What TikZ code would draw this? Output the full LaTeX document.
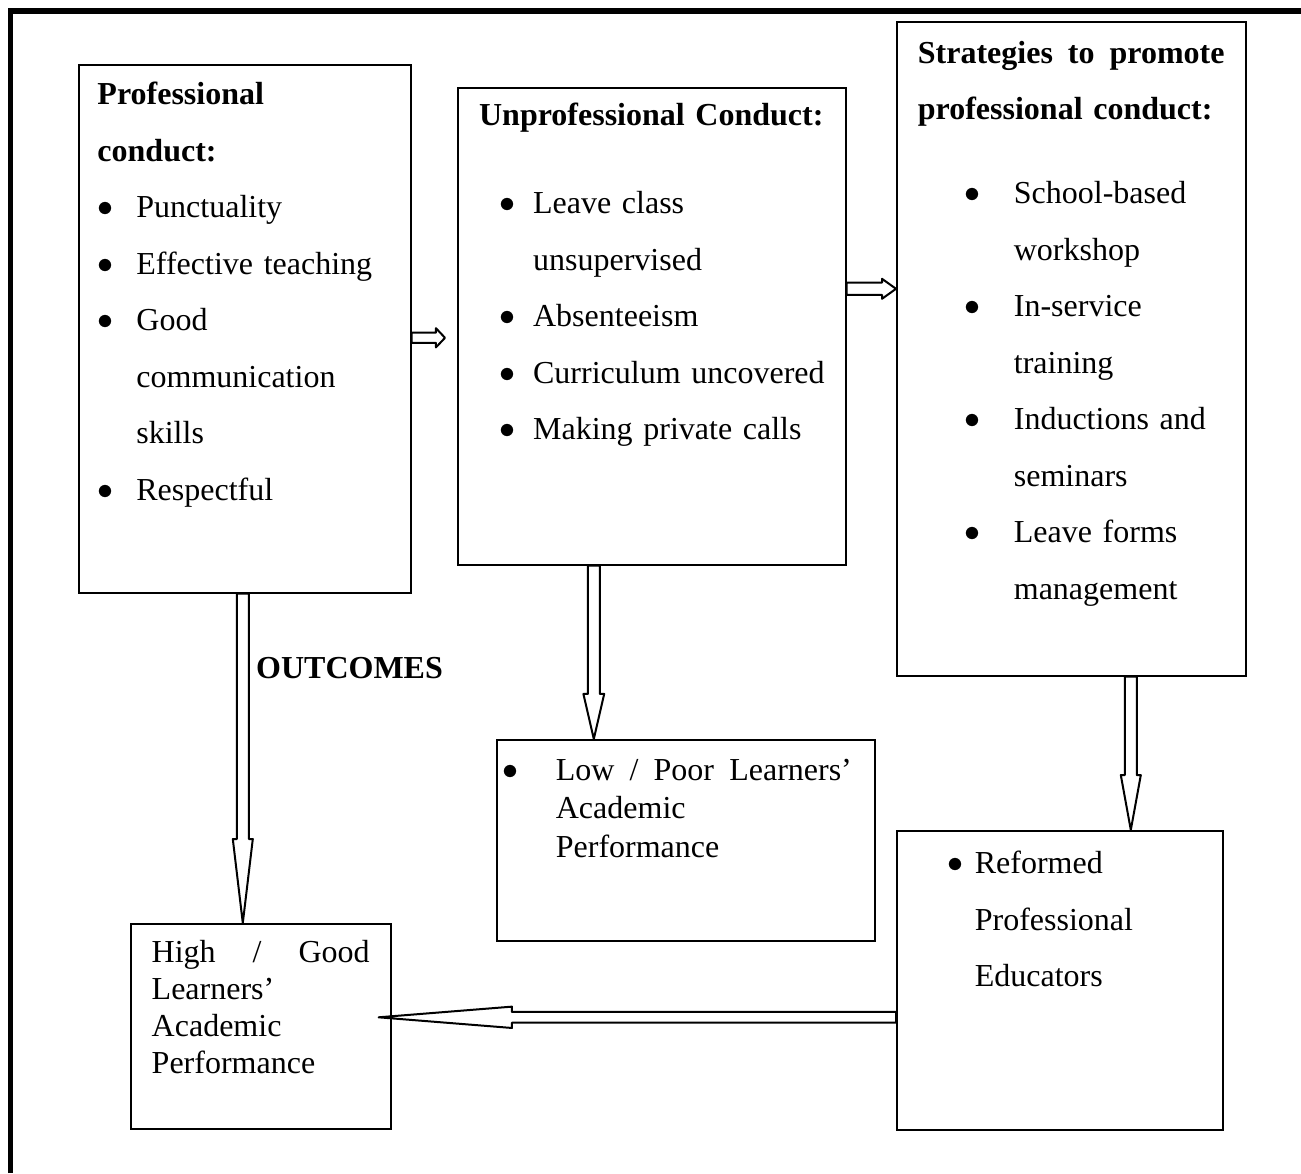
\documentclass[tikz,border=0pt]{standalone}
\usepackage{fontspec}
\setmainfont{Liberation Serif}
\usepackage{tikz}
\usetikzlibrary{calc, positioning}

% bullet at offset #1, text starting at #2
\newcommand{\bul}[2]{\makebox[#2][l]{\hspace*{#1}\raisebox{0.5pt}{$\bullet$}}}

\begin{document}
\begin{tikzpicture}[
        x=0.375pt, y=-0.375pt,
        every node/.style={font=\fontsize{12}{21.2}\selectfont},
        tight/.style={font=\fontsize{12}{13.8}\selectfont},
        panel/.style n args={4}{draw, line width=0.6pt, anchor=north west, align=left,
            inner xsep=#1, inner ysep=#2, text width=#3, text height=9pt, text depth=#4},
        hollow/.style n args={3}{draw, line width=0.75pt, line join=round, to path={
            coordinate (s) at (\tikztostart) coordinate (t) at (\tikztotarget)
            coordinate (hb) at ($(t)!#3!(s)$)
            ($(s)!#1!90:(t)$) -- ($(hb)!#1!-90:(s)$) -- ($(hb)!#2!-90:(s)$) -- (t)
            -- ($(hb)!#2!90:(s)$) -- ($(hb)!#1!90:(s)$) -- ($(s)!#1!-90:(t)$) -- cycle}}
    ]
        \useasboundingbox (0,0) rectangle (1301,1173);
        % page frame
        \draw[line width=1.9pt] (10.5,1173) -- (10.5,11) -- (1301,11);

        % --- BOXES ---
        \node[panel={7pt}{6pt}{110.5pt}{177pt}] (pro) at (78,64) {%
            \textbf{Professional}\\
            \textbf{conduct:}\\
            \bul{0pt}{14.6pt}Punctuality\\
            \bul{0pt}{14.6pt}Effective teaching\\
            \bul{0pt}{14.6pt}Good\\
            \hspace*{14.6pt}communication\\
            \hspace*{14.6pt}skills\\
            \bul{0pt}{14.6pt}Respectful};
        \node[panel={8pt}{5.25pt}{129.5pt}{159.375pt}] (unpro) at (457,87) {%
            \textbf{Unprofessional Conduct:}\\[11.8pt]
            \bul{7.75pt}{20.25pt}Leave class\\
            \hspace*{20.25pt}unsupervised\\
            \bul{7.75pt}{20.25pt}Absenteeism\\
            \bul{7.75pt}{20.25pt}\mbox{Curriculum uncovered}\\
            \bul{7.75pt}{20.25pt}Making private calls};
        \node[panel={7.9pt}{6.5pt}{115.07pt}{223.25pt}] (strat) at (896,21) {%
            \makebox[115pt][l]{\bfseries Strategies\hfill to\hfill promote}\\
            \textbf{professional conduct:}\\[10.3pt]
            \bul{17.6pt}{36pt}School-based\\
            \hspace*{36pt}workshop\\
            \bul{17.6pt}{36pt}In-service\\
            \hspace*{36pt}training\\
            \bul{17.6pt}{36pt}Inductions and\\
            \hspace*{36pt}seminars\\
            \bul{17.6pt}{36pt}Leave forms\\
            \hspace*{36pt}management};
        \node[panel={3.4pt}{6.35pt}{134.95pt}{53.675pt}, font=\fontsize{12}{14.3}\selectfont] (low) at (496,739) {%
            \bul{-1.15pt}{18.75pt}\makebox[111pt][l]{Low\hfill/\hfill Poor\hfill Learners'}\\
            \hspace*{18.75pt}Academic\\
            \hspace*{18.75pt}Performance};
        \node[panel={20.25pt}{7pt}{81.75pt}{89.125pt}] (reform) at (896,830) {%
            \bul{-1.1pt}{9pt}Reformed\\
            \hspace*{9pt}Professional\\
            \hspace*{9pt}Educators};
        \node[panel={7.85pt}{5.6pt}{81.8pt}{56.675pt}, tight] (high) at (130,923) {%
            \makebox[81.75pt][l]{High\hfill/\hfill Good}\\
            Learners'\\
            Academic\\
            Performance};
        \node[font=\fontsize{12}{14}\selectfont\bfseries] (outcomes) at (349.5,668) {OUTCOMES};

        % --- ARROWS ---
        \draw[hollow={1.9pt}{3.6pt}{3.4pt}] ($(pro.east)+(0,9)$) to ($(unpro.west)+(-12,11.5)$);
        \draw[hollow={2.3pt}{3.75pt}{5.25pt}] ($(unpro.east)+(0,-37.5)$) to ($(strat.west)+(0,-60)$);
        \draw[hollow={2.25pt}{3.75pt}{31.5pt}] ($(pro.south)+(-2,0)$) to ($(high.north)+(-18,0)$);
        \draw[hollow={2.25pt}{3.9pt}{16.9pt}] ($(unpro.south)+(-58,0)$) to ($(low.north)+(-92,0)$);
        \draw[hollow={2.25pt}{3.75pt}{20.6pt}] ($(strat.south)+(59.5,0)$) to ($(reform.north)+(71,0)$);
        % back to the learners
        \draw[hollow={2pt}{4pt}{50pt}] ($(reform.west)+(0,37)$) to ($(high.east)+(-13,-9)$);
    \end{tikzpicture}
\end{document}
